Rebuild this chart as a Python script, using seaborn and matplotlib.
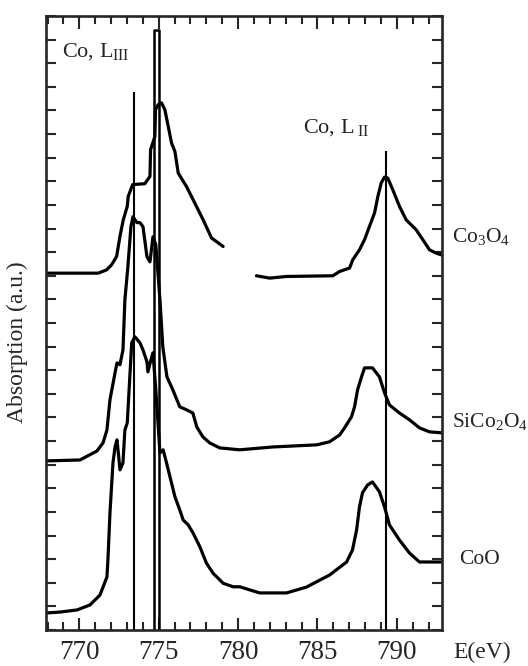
import numpy as np
import pandas as pd
import matplotlib
matplotlib.use("Agg")
import matplotlib.pyplot as plt
import matplotlib.transforms as mtransforms
import seaborn as sns

# ---------------- data ----------------
# Co3O4, L_III part
co3o4_a_E = [767.9, 771.19, 771.72, 772.04, 772.35, 772.56, 772.77, 773.02, 773.08,
             773.36, 774.13, 774.45, 774.49, 774.76, 774.80, 774.97, 775.18, 775.39,
             775.60, 775.81, 776.02, 776.23, 776.75, 777.17, 777.80, 778.33, 779.06]
co3o4_a_A = [15.11, 15.11, 15.25, 15.47, 15.82, 16.67, 17.37, 17.94, 18.36,
             18.86, 18.90, 19.21, 20.34, 20.90, 22.03, 22.25, 22.32, 22.03,
             21.33, 20.62, 20.27, 19.35, 18.78, 18.22, 17.37, 16.60, 16.24]
# Co3O4, L_II part
co3o4_b_E = [781.16, 781.99, 783.04, 785.97, 786.40, 787.03, 787.23, 787.65, 787.97,
             788.28, 788.60, 788.81, 789.02, 789.23, 789.43, 789.75, 790.17, 790.59,
             791.22, 791.64, 792.06, 792.48, 792.79]
co3o4_b_A = [15.00, 14.90, 14.97, 15.00, 15.18, 15.33, 15.68, 16.10, 16.53,
             17.09, 17.66, 18.36, 18.93, 19.18, 19.14, 18.64, 17.94, 17.37,
             16.95, 16.53, 16.10, 15.96, 15.89]
# SiCo2O4
sico_E = [767.9, 770.04, 771.11, 771.49, 771.74, 771.93, 772.25, 772.37, 772.56, 772.75,
          772.87, 773.06, 773.25, 773.38, 773.63, 773.82, 774.01, 774.26, 774.45, 774.64,
          774.82, 775.08, 775.26, 775.52, 775.89, 776.33, 776.77, 777.15, 777.40, 777.78,
          778.22, 778.85, 780.11, 782.18, 784.95, 785.77, 786.40, 786.71, 787.15, 787.34,
          787.53, 787.78, 787.97, 788.47, 788.91, 789.23, 789.54, 790.17, 790.80, 791.43,
          792.06, 792.82]
sico_A = [7.16, 7.20, 7.58, 7.92, 8.47, 9.75, 10.89, 11.31, 11.23, 11.86,
          13.98, 15.38, 17.08, 17.50, 17.25, 17.25, 17.08, 15.81, 15.59, 16.65,
          16.31, 13.98, 11.99, 10.72, 10.17, 9.45, 9.32, 9.19, 8.60, 8.18,
          7.92, 7.71, 7.63, 7.75, 7.84, 7.97, 8.26, 8.56, 9.03, 9.45,
          10.17, 10.72, 11.10, 11.10, 10.72, 10.04, 9.53, 9.19, 8.90, 8.56,
          8.39, 8.35]
# CoO
coo_E = [767.9, 768.79, 769.86, 770.67, 771.30, 771.74, 771.81, 771.93, 772.12, 772.25,
         772.37, 772.47, 772.56, 772.75, 772.87, 773.02, 773.30, 773.50, 773.82, 774.01,
         774.26, 774.32, 774.51, 774.64, 774.82, 775.08, 775.28, 775.50, 775.81, 776.02,
         776.33, 776.54, 776.86, 777.17, 777.59, 778.01, 778.43, 779.06, 779.69, 780.11,
         781.36, 783.06, 784.32, 785.77, 786.84, 787.21, 787.47, 787.65, 787.84, 788.16,
         788.47, 788.91, 789.23, 789.54, 790.17, 790.80, 791.43, 792.82]
coo_A = [0.72, 0.76, 0.85, 1.06, 1.48, 2.25, 3.09, 4.96, 7.08, 7.75,
         8.05, 7.42, 6.78, 7.08, 8.47, 8.77, 12.16, 12.42, 12.16, 11.86,
         11.36, 10.93, 11.44, 11.74, 10.17, 7.50, 7.63, 7.06, 6.22, 5.65,
         5.08, 4.66, 4.45, 4.10, 3.53, 2.83, 2.40, 1.98, 1.83, 1.83,
         1.57, 1.57, 1.82, 2.33, 2.88, 3.39, 4.24, 5.21, 5.81, 6.14,
         6.27, 5.85, 5.21, 4.45, 3.81, 3.26, 2.88, 2.88]

# reference lines (energy, top)
ref_line_E = [773.44, 789.30]
ref_line_top = [22.8, 20.3]
ref_box_E = [774.73, 775.04]
ref_box_top = 25.4

sample_names = ["Co$_3$O$_4$", "SiCo$_2$O$_4$", "CoO"]
sample_label_E = [793.5, 793.45, 793.94]
sample_label_A = [16.45, 8.6, 2.8]
xticks_major = [770, 775, 780, 785, 790]

# ---------------- build table ----------------
frames = []
for name, E, A in [("Co3O4_a", co3o4_a_E, co3o4_a_A), ("Co3O4_b", co3o4_b_E, co3o4_b_A),
                   ("SiCo2O4", sico_E, sico_A), ("CoO", coo_E, coo_A)]:
    frames.append(pd.DataFrame({"E": E, "A": A, "trace": name}))
df = pd.concat(frames, ignore_index=True)

sns.set_theme(style="ticks")
plt.rcParams["font.family"] = ["Liberation Serif", "DejaVu Serif"]
plt.rcParams["mathtext.fontset"] = "custom"
plt.rcParams["mathtext.rm"] = "Liberation Serif"
plt.rcParams["mathtext.it"] = "Liberation Serif:italic"

fig = plt.figure(figsize=(5.28, 6.66), dpi=100)
ax = fig.add_axes([46 / 528, 1 - 630 / 666, (442 - 46) / 528, (630 - 16) / 666])

sns.lineplot(data=df, x="E", y="A", units="trace", estimator=None, sort=False,
             color="black", linewidth=2.3, legend=False, ax=ax)

for xe, top in zip(ref_line_E, ref_line_top):
    ax.plot([xe, xe], [0, top], color="black", linewidth=1.5, solid_capstyle="butt")
ax.plot([ref_box_E[0], ref_box_E[0], ref_box_E[1], ref_box_E[1]],
        [0, ref_box_top, ref_box_top, 0], color="black", linewidth=1.8)

ax.set_xlim(767.9, 792.85)
ax.set_ylim(0, 26)
ax.set_xticks(xticks_major)
ax.set_xticks(np.arange(768, 793, 1), minor=True)
ax.set_yticks(np.arange(0, 27, 1))
ax.set_yticklabels([])
ax.set_xlabel("")
ax.set_ylabel("")
for s in ax.spines.values():
    s.set_linewidth(1.9)
    s.set_visible(True)
ax.tick_params(axis="x", which="major", direction="in", length=9, width=1.5,
               top=True, bottom=True, labelsize=19.5, pad=7)
ax.tick_params(axis="x", which="minor", direction="in", length=5.5, width=1.5,
               top=True, bottom=True)
ax.tick_params(axis="y", which="major", direction="in", length=7, width=1.5,
               left=True, right=True)

ax.text(768.9, 24.3, r"Co, L$_{\rm III}$", fontsize=16, ha="left", va="baseline")
ax.text(784.1, 21.06, r"Co, L$_{\ \rm II}$", fontsize=16, ha="left", va="baseline")

for name, xe, ya in zip(sample_names, sample_label_E, sample_label_A):
    ax.text(xe, ya, name, fontsize=15.5, ha="left", va="baseline", clip_on=False)

trans = mtransforms.blended_transform_factory(ax.transData, ax.transAxes)
ax.text(793.55, -0.019, "E(eV)", transform=trans, fontsize=17, ha="left", va="top",
        clip_on=False)

fig.text(17 / 528, 1 - 342 / 666, "Absorption (a.u.)", rotation=90, fontsize=17,
         ha="center", va="center")

fig.savefig("out.png", dpi=100, facecolor="white")
